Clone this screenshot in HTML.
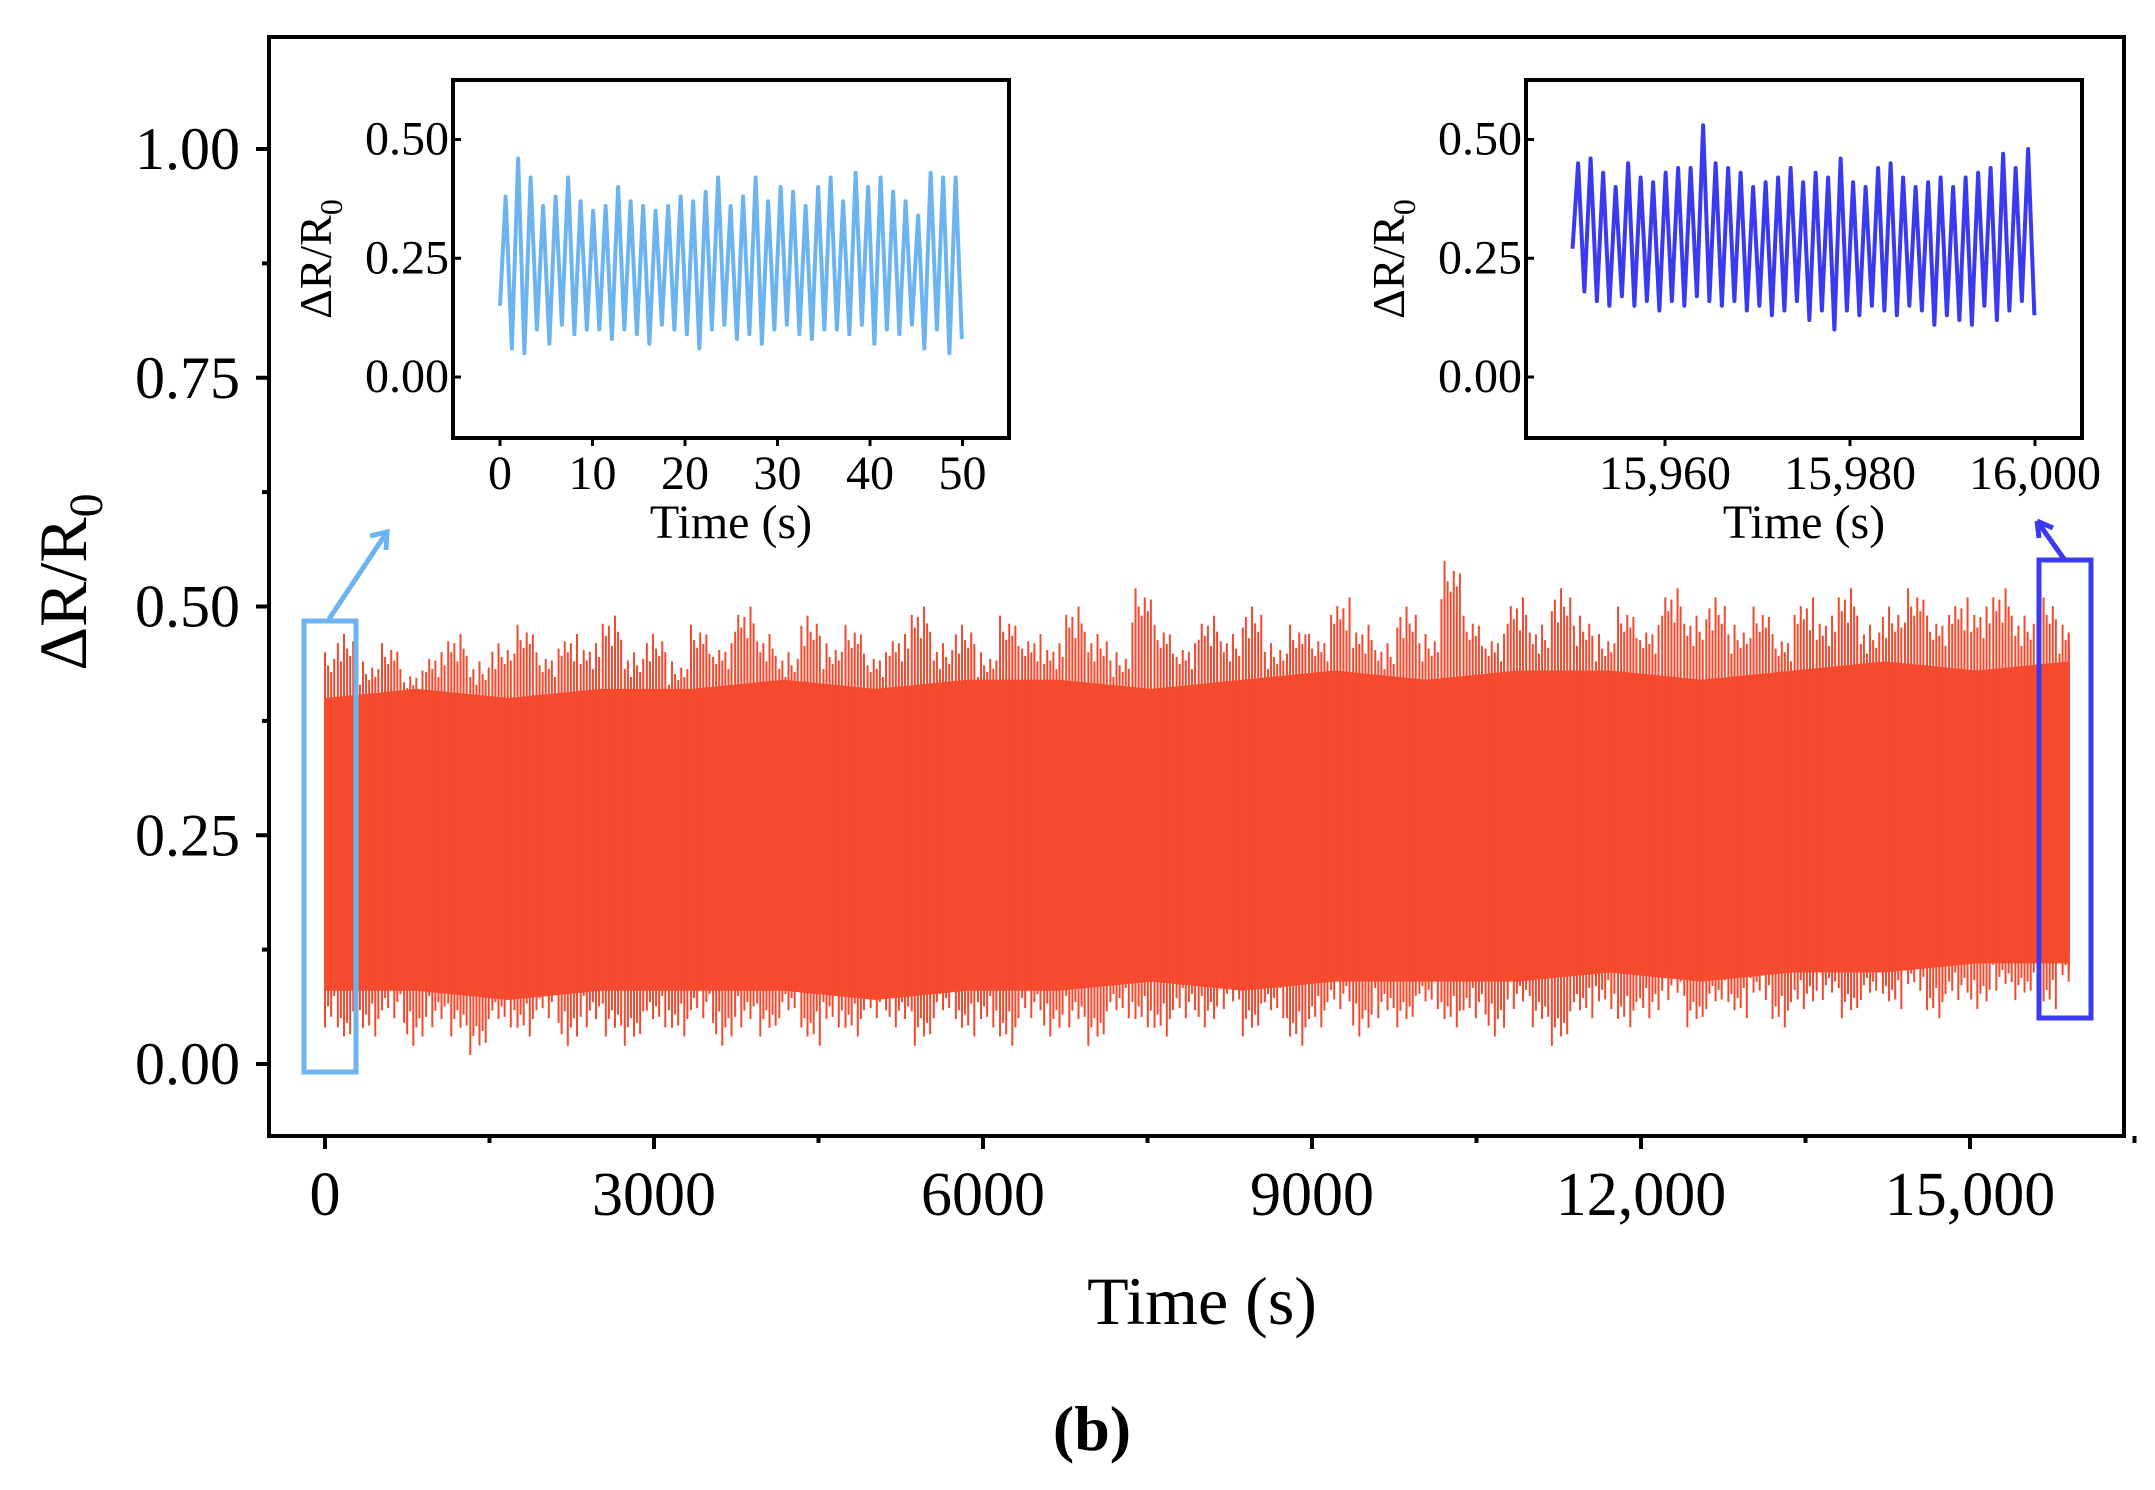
<!DOCTYPE html>
<html><head><meta charset="utf-8"><style>
html,body{margin:0;padding:0;background:#fff;}
svg{display:block;font-family:"Liberation Serif",serif;}
</style></head><body>
<svg id="chart" width="2155" height="1490" viewBox="0 0 2155 1490" xmlns="http://www.w3.org/2000/svg">
<g id="main"></g>
<g id="in1"></g>
<g id="in2"></g>
</svg>
<script>
// ---- main chart data ----
const mainYTicks = [0, 0.25, 0.5, 0.75, 1.0];
const mainYTickLabels = ["0.00", "0.25", "0.50", "0.75", "1.00"];
const mainXTicks = [0, 3000, 6000, 9000, 12000, 15000];
const mainXTickLabels = ["0", "3000", "6000", "9000", "12,000", "15,000"];
const envStart = 0, envEnd = 15900;
const envTop = [0.45,0.47,0.44,0.46,0.43,0.45,0.47,0.44,0.46,0.48,
0.45,0.47,0.46,0.49,0.45,0.47,0.44,0.48,0.46,0.50,
0.47,0.45,0.49,0.46,0.48,0.45,0.47,0.50,0.46,0.48,
0.45,0.49,0.47,0.46,0.50,0.47,0.45,0.52,0.48,0.46,
0.49,0.47,0.50,0.46,0.48,0.47,0.51,0.48,0.46,0.50,
0.47,0.55,0.49,0.47,0.51,0.48,0.52,0.49,0.47,0.50,
0.48,0.52,0.49,0.51,0.48,0.50,0.47,0.51,0.49,0.52,
0.48,0.50,0.52,0.49,0.51,0.50,0.52,0.49,0.51,0.48];
const envBottom = [0.04,0.02,0.03,0.05,0.02,0.04,0.03,0.01,0.04,0.03,
0.05,0.02,0.04,0.03,0.02,0.04,0.03,0.05,0.02,0.04,
0.03,0.05,0.02,0.04,0.03,0.05,0.04,0.02,0.05,0.03,
0.04,0.02,0.05,0.03,0.04,0.02,0.05,0.04,0.03,0.05,
0.04,0.06,0.03,0.05,0.02,0.04,0.06,0.03,0.05,0.04,
0.06,0.04,0.05,0.03,0.06,0.04,0.02,0.05,0.06,0.04,
0.05,0.07,0.04,0.06,0.05,0.07,0.04,0.06,0.07,0.05,
0.07,0.06,0.08,0.05,0.07,0.06,0.08,0.07,0.06,0.09];
const coreTop = [0.40,0.41,0.40,0.41,0.41,0.42,0.41,0.42,0.42,0.41,0.42,0.43,0.42,0.43,0.43,0.42,0.43,0.44,0.43,0.44];
const coreBottom = [0.08,0.08,0.07,0.08,0.08,0.08,0.07,0.08,0.08,0.09,0.08,0.09,0.09,0.09,0.10,0.09,0.10,0.10,0.11,0.11];

// ---- inset data ----
const in1Peaks = [0.38,0.46,0.42,0.36,0.38,0.42,0.37,0.35,0.36,0.40,0.37,0.36,0.35,0.36,0.38,0.37,0.39,0.42,0.36,0.38,0.42,0.37,0.40,0.39,0.36,0.40,0.42,0.37,0.43,0.40,0.42,0.39,0.37,0.34,0.43,0.42,0.42];
const in1Troughs = [0.06,0.05,0.10,0.07,0.11,0.09,0.10,0.10,0.08,0.10,0.09,0.07,0.11,0.10,0.09,0.06,0.10,0.11,0.08,0.09,0.07,0.10,0.11,0.09,0.08,0.10,0.10,0.09,0.11,0.07,0.10,0.09,0.11,0.06,0.10,0.05,0.08];
const in1Range = [0, 50], in1StartVal = 0.15;
const in1XTicks = [0,10,20,30,40,50];
const in1XTickLabels = ["0","10","20","30","40","50"];
const in2Peaks = [0.45,0.46,0.43,0.40,0.45,0.42,0.41,0.43,0.44,0.44,0.53,0.45,0.44,0.43,0.40,0.41,0.42,0.44,0.41,0.43,0.42,0.46,0.41,0.40,0.44,0.45,0.42,0.40,0.41,0.42,0.40,0.42,0.43,0.44,0.47,0.44,0.48];
const in2Troughs = [0.18,0.16,0.15,0.17,0.15,0.16,0.14,0.16,0.15,0.17,0.16,0.15,0.16,0.14,0.15,0.13,0.14,0.16,0.12,0.14,0.10,0.14,0.13,0.15,0.14,0.13,0.15,0.14,0.11,0.13,0.12,0.11,0.15,0.12,0.14,0.16,0.13];
const in2Range = [15950, 16000], in2StartVal = 0.27;
const in2XTicks = [15960,15980,16000];
const in2XTickLabels = ["15,960","15,980","16,000"];
const inYTicks = [0,0.25,0.5];
const inYTickLabels = ["0.00","0.25","0.50"];

const NS = "http://www.w3.org/2000/svg";
function mk(parent, tag, attrs, text){
  const e = document.createElementNS(NS, tag);
  for (const k in attrs) e.setAttribute(k, attrs[k]);
  if (text !== undefined) e.textContent = text;
  parent.appendChild(e); return e;
}
const X = t => 325 + (t/15000)*1645;
const Y = v => 1064 - v*915;

const main = document.getElementById('main');
let pts = [];
const nC = coreTop.length;
for (let i=0;i<nC;i++){ const t = envStart + (envEnd-envStart)*i/(nC-1); pts.push(X(t)+","+Y(coreTop[i])); }
for (let i=nC-1;i>=0;i--){ const t = envStart + (envEnd-envStart)*i/(nC-1); pts.push(X(t)+","+Y(coreBottom[i])); }
const core = mk(main,'polygon',{points:pts.join(' '),fill:'#fd4b2e'});


const jit = [-3,-2,-1,0,1,2,3];
const fac = [0.90,0.95,0.85,1.0,0.92,0.88,0.96];
const nE = envTop.length;
for (let i=0;i<nE;i++){
  const t = envStart + (envEnd-envStart)*i/(nE-1);
  jit.forEach((j,k)=>{
    const tt = Math.min(envEnd, Math.max(envStart, t + j*28));
    const f = fac[(k+i)%fac.length];
    const l = mk(main,'line',{x1:X(tt),x2:X(tt),y1:Y(0.27+(envTop[i]-0.27)*f),y2:Y(0.27-(0.27-envBottom[i])*fac[(k+i+3)%fac.length]),stroke:'#f24a2f','stroke-width':2});
    
    
  });
}
const fr = mk(main,'rect',{x:269,y:37,width:1855,height:1099,fill:'none',stroke:'#000','stroke-width':4});


mainYTicks.forEach((v,i)=>{
  mk(main,'line',{x1:256,x2:269,y1:Y(v),y2:Y(v),stroke:'#000','stroke-width':4});
  const tx = mk(main,'text',{x:240,y:Y(v)+20,'text-anchor':'end','font-size':60},mainYTickLabels[i]);
  
  
  if (i<mainYTicks.length-1) mk(main,'line',{x1:262,x2:269,y1:Y(v+0.125),y2:Y(v+0.125),stroke:'#000','stroke-width':4});
});
mainXTicks.forEach((t,i)=>{
  mk(main,'line',{x1:X(t),x2:X(t),y1:1136,y2:1149,stroke:'#000','stroke-width':4});
  mk(main,'line',{x1:X(t+1500),x2:X(t+1500),y1:1136,y2:1143,stroke:'#000','stroke-width':4});
  const tx = mk(main,'text',{x:X(t),y:1215,'text-anchor':'middle','font-size':62},mainXTickLabels[i]);
  
  
});
const xt = mk(main,'text',{x:1202,y:1324,'text-anchor':'middle','font-size':68},'Time (s)');


const yt = mk(main,'text',{transform:'translate(86,582) rotate(-90)','text-anchor':'middle','font-size':68});
yt.innerHTML = 'ΔR/R<tspan font-size="48" dy="16">0</tspan>';


const lb = mk(main,'text',{x:1092,y:1450,'text-anchor':'middle','font-size':64,'font-weight':'bold'},'(b)');


const b1 = mk(main,'rect',{x:304,y:621,width:52,height:451,fill:'none',stroke:'#6cb4f0','stroke-width':5});


const a1 = mk(main,'path',{d:'M329,619 L387,532 M370,536 L387,532 L386,550',fill:'none',stroke:'#6cb4f0','stroke-width':5});


const b2 = mk(main,'rect',{x:2039,y:560,width:52,height:458,fill:'none',stroke:'#3a3af0','stroke-width':5});


const a2 = mk(main,'path',{d:'M2064,559 L2037,521 M2037,521 L2039,538 M2037,521 L2053,528',fill:'none',stroke:'#3a3af0','stroke-width':5});



function inset(g, bx, peaks, troughs, range, startVal, xTicks, xLabels, color, x0px){
  const IX = t => x0px + (t - xTicks[0])*9.25;
  const IY = v => 377 - v*475;
  const r = mk(g,'rect',{x:bx,y:80,width:556,height:358,fill:'#fff',stroke:'#000','stroke-width':4});
  
  
  const n = peaks.length, per = (range[1]-range[0])/n;
  let p = [IX(range[0])+","+IY(startVal)];
  for (let i=0;i<n;i++){
    p.push(IX(range[0]+(i+0.45)*per)+","+IY(peaks[i]));
    p.push(IX(range[0]+(i+0.95)*per)+","+IY(troughs[i]));
  }
  const pl = mk(g,'polyline',{points:p.join(' '),fill:'none',stroke:color,'stroke-width':4,'stroke-linejoin':'round'});
  
  
  inYTicks.forEach((v,i)=>{
    mk(g,'line',{x1:bx,x2:bx+8,y1:IY(v),y2:IY(v),stroke:'#000','stroke-width':3});
    const tx = mk(g,'text',{x:bx-4,y:IY(v)+15,'text-anchor':'end','font-size':48},inYTickLabels[i]);
    
    
  });
  xTicks.forEach((t,i)=>{
    mk(g,'line',{x1:IX(t),x2:IX(t),y1:438,y2:446,stroke:'#000','stroke-width':3});
    const tx = mk(g,'text',{x:IX(t),y:489,'text-anchor':'middle','font-size':48},xLabels[i]);
    
    
  });
  const tt = mk(g,'text',{x:bx+278,y:538,'text-anchor':'middle','font-size':48},'Time (s)');
  
  
  const yy = mk(g,'text',{transform:`translate(${bx-122},259) rotate(-90)`,'text-anchor':'middle','font-size':46});
  yy.innerHTML = 'ΔR/R<tspan font-size="32" dy="11">0</tspan>';
  
  
}
inset(document.getElementById('in1'), 453, in1Peaks, in1Troughs, in1Range, in1StartVal, in1XTicks, in1XTickLabels, '#6cb4f0', 500);
inset(document.getElementById('in2'), 1526, in2Peaks, in2Troughs, in2Range, in2StartVal, in2XTicks, in2XTickLabels, '#3a3af0', 1665);
</script>
</body></html>
